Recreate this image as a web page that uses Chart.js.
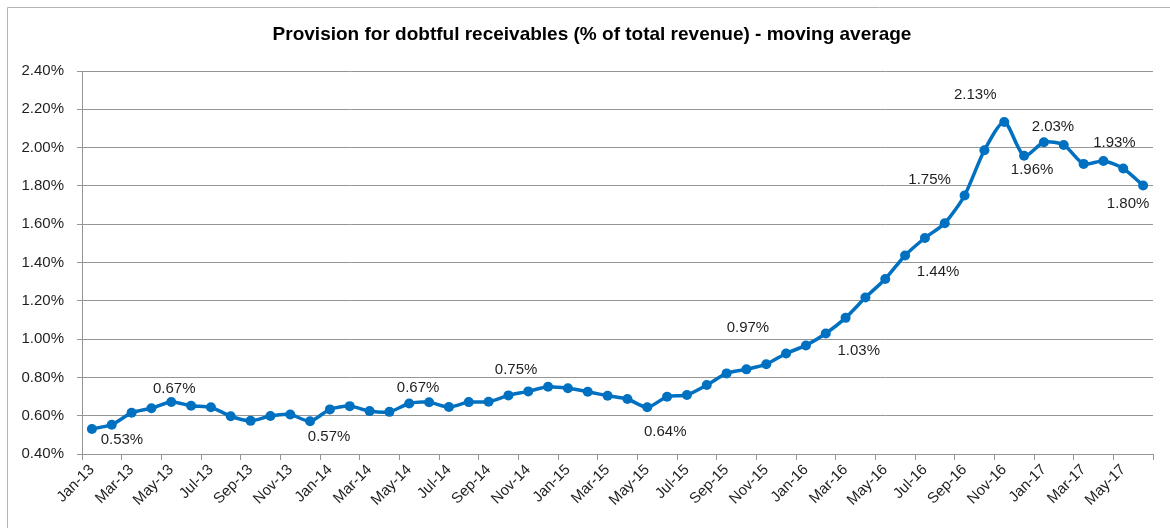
<!DOCTYPE html>
<html>
<head>
<meta charset="utf-8">
<title>Provision for doubtful receivables</title>
<script src="https://cdn.jsdelivr.net/npm/chart.js@4.4.1/dist/chart.umd.min.js"></script>
<style>
  html, body { margin: 0; padding: 0; background: #fff; }
  #wrap { width: 1170px; height: 528px; }
</style>
</head>
<body>
<div id="wrap"><canvas id="chart" width="1170" height="528"></canvas></div>
<script>
// ── Data ────────────────────────────────────────────────────────────────────
var months = [
  'Jan-13', 'Feb-13', 'Mar-13', 'Apr-13', 'May-13', 'Jun-13', 'Jul-13', 'Aug-13', 'Sep-13', 'Oct-13', 'Nov-13', 'Dec-13',
  'Jan-14', 'Feb-14', 'Mar-14', 'Apr-14', 'May-14', 'Jun-14', 'Jul-14', 'Aug-14', 'Sep-14', 'Oct-14', 'Nov-14', 'Dec-14',
  'Jan-15', 'Feb-15', 'Mar-15', 'Apr-15', 'May-15', 'Jun-15', 'Jul-15', 'Aug-15', 'Sep-15', 'Oct-15', 'Nov-15', 'Dec-15',
  'Jan-16', 'Feb-16', 'Mar-16', 'Apr-16', 'May-16', 'Jun-16', 'Jul-16', 'Aug-16', 'Sep-16', 'Oct-16', 'Nov-16', 'Dec-16',
  'Jan-17', 'Feb-17', 'Mar-17', 'Apr-17', 'May-17', 'Jun-17'
];

// provision as % of total revenue, moving average
var provisionPct = [
  0.531, 0.553, 0.615, 0.639, 0.672, 0.652, 0.644, 0.597, 0.573, 0.598, 0.606, 0.571,
  0.633, 0.650, 0.624, 0.620, 0.664, 0.670, 0.645, 0.671, 0.673, 0.706, 0.727, 0.751,
  0.743, 0.725, 0.704, 0.687, 0.644, 0.699, 0.708, 0.760, 0.821, 0.842, 0.869, 0.925,
  0.967, 1.029, 1.111, 1.217, 1.314, 1.437, 1.528, 1.605, 1.750, 1.986, 2.134, 1.957,
  2.028, 2.014, 1.915, 1.930, 1.891, 1.802
];

// points that carry a value label
var labelledIdx = [0, 4, 11, 17, 23, 28, 36, 37, 41, 44, 46, 47, 48, 51, 53];

var chartTitle = 'Provision for dobtful receivables (% of total revenue) - moving average';

var yMin = 0.4;
var yMax = 2.4;
var yStep = 0.2;

// ── Styling ─────────────────────────────────────────────────────────────────
var FONT = '"Liberation Sans", Arial, sans-serif';
var BLUE = '#0070C0';
var GRID = '#959595';
var TEXT = '#1f1f1f';

// label offset from its point, same order as labelledIdx
var LABEL_OFFSETS = [
  [30, 11], [3, -13], [19, 16], [-11, -14], [-32, -17], [18, 25], [-58, -18],
  [33, 17], [33, 16], [-35, -16], [-29, -27], [8, 14], [9, -15], [11, -18], [-15, 18]
];

// ── Plugins ─────────────────────────────────────────────────────────────────
var frame = {
  id: 'frame',
  beforeDraw: function (chart) {
    var ctx = chart.ctx;
    ctx.save();
    ctx.fillStyle = '#fff';
    ctx.fillRect(0, 0, chart.width, chart.height);
    ctx.strokeStyle = '#b4b4b4';
    ctx.lineWidth = 1;
    ctx.beginPath();
    ctx.moveTo(7.5, chart.height);
    ctx.lineTo(7.5, 7.5);
    ctx.lineTo(chart.width, 7.5);
    ctx.stroke();
    // title, centred a little right of the canvas middle like the original
    ctx.fillStyle = '#000';
    ctx.font = 'bold 19px ' + FONT;
    ctx.textAlign = 'center';
    ctx.textBaseline = 'middle';
    ctx.fillText(chartTitle, 592, 35);
    ctx.restore();
  }
};

var pointLabels = {
  id: 'pointLabels',
  afterDatasetsDraw: function (chart) {
    var meta = chart.getDatasetMeta(0);
    var ctx = chart.ctx;
    ctx.save();
    ctx.font = '15px ' + FONT;
    ctx.fillStyle = TEXT;
    ctx.textAlign = 'center';
    ctx.textBaseline = 'middle';
    labelledIdx.forEach(function (idx, k) {
      var pt = meta.data[idx];
      var off = LABEL_OFFSETS[k];
      ctx.fillText(provisionPct[idx].toFixed(2) + '%', pt.x + off[0], pt.y + off[1]);
    });
    ctx.restore();
  }
};

// ── Chart ───────────────────────────────────────────────────────────────────
new Chart(document.getElementById('chart'), {
  type: 'line',
  data: {
    labels: months,
    datasets: [{
      data: provisionPct,
      borderColor: BLUE,
      backgroundColor: BLUE,
      borderWidth: 3.5,
      pointRadius: 5,
      pointBorderWidth: 0,
      pointBackgroundColor: BLUE,
      tension: 0.25,
      clip: false
    }]
  },
  options: {
    responsive: false,
    animation: false,
    devicePixelRatio: 1,
    layout: { padding: { left: 0, right: 17, top: 71, bottom: 0 } },
    plugins: {
      legend: { display: false },
      tooltip: { enabled: false },
      title: { display: false }
    },
    scales: {
      x: {
        type: 'category',
        offset: true,
        grid: {
          offset: true,
          drawOnChartArea: false,
          tickLength: 6,
          color: function (c) {
            return (c.index === undefined || c.index % 2 === 0) ? GRID : 'rgba(0,0,0,0)';
          }
        },
        border: { color: GRID, width: 1 },
        ticks: {
          autoSkip: false,
          maxRotation: 45,
          minRotation: 45,
          padding: 1,
          color: TEXT,
          font: { family: FONT, size: 15 },
          callback: function (v, i) { return i % 2 === 0 ? months[i] : ''; }
        },
        afterFit: function (scale) { scale.height = 74; }
      },
      y: {
        min: yMin,
        max: yMax,
        grid: { color: GRID, tickLength: 5 },
        border: { color: GRID, width: 1 },
        ticks: {
          stepSize: yStep,
          padding: 13,
          color: TEXT,
          font: { family: FONT, size: 15 },
          callback: function (v) { return v.toFixed(2) + '%'; }
        },
        afterFit: function (scale) { scale.width = 82; }
      }
    }
  },
  plugins: [frame, pointLabels]
});
</script>
</body>
</html>
